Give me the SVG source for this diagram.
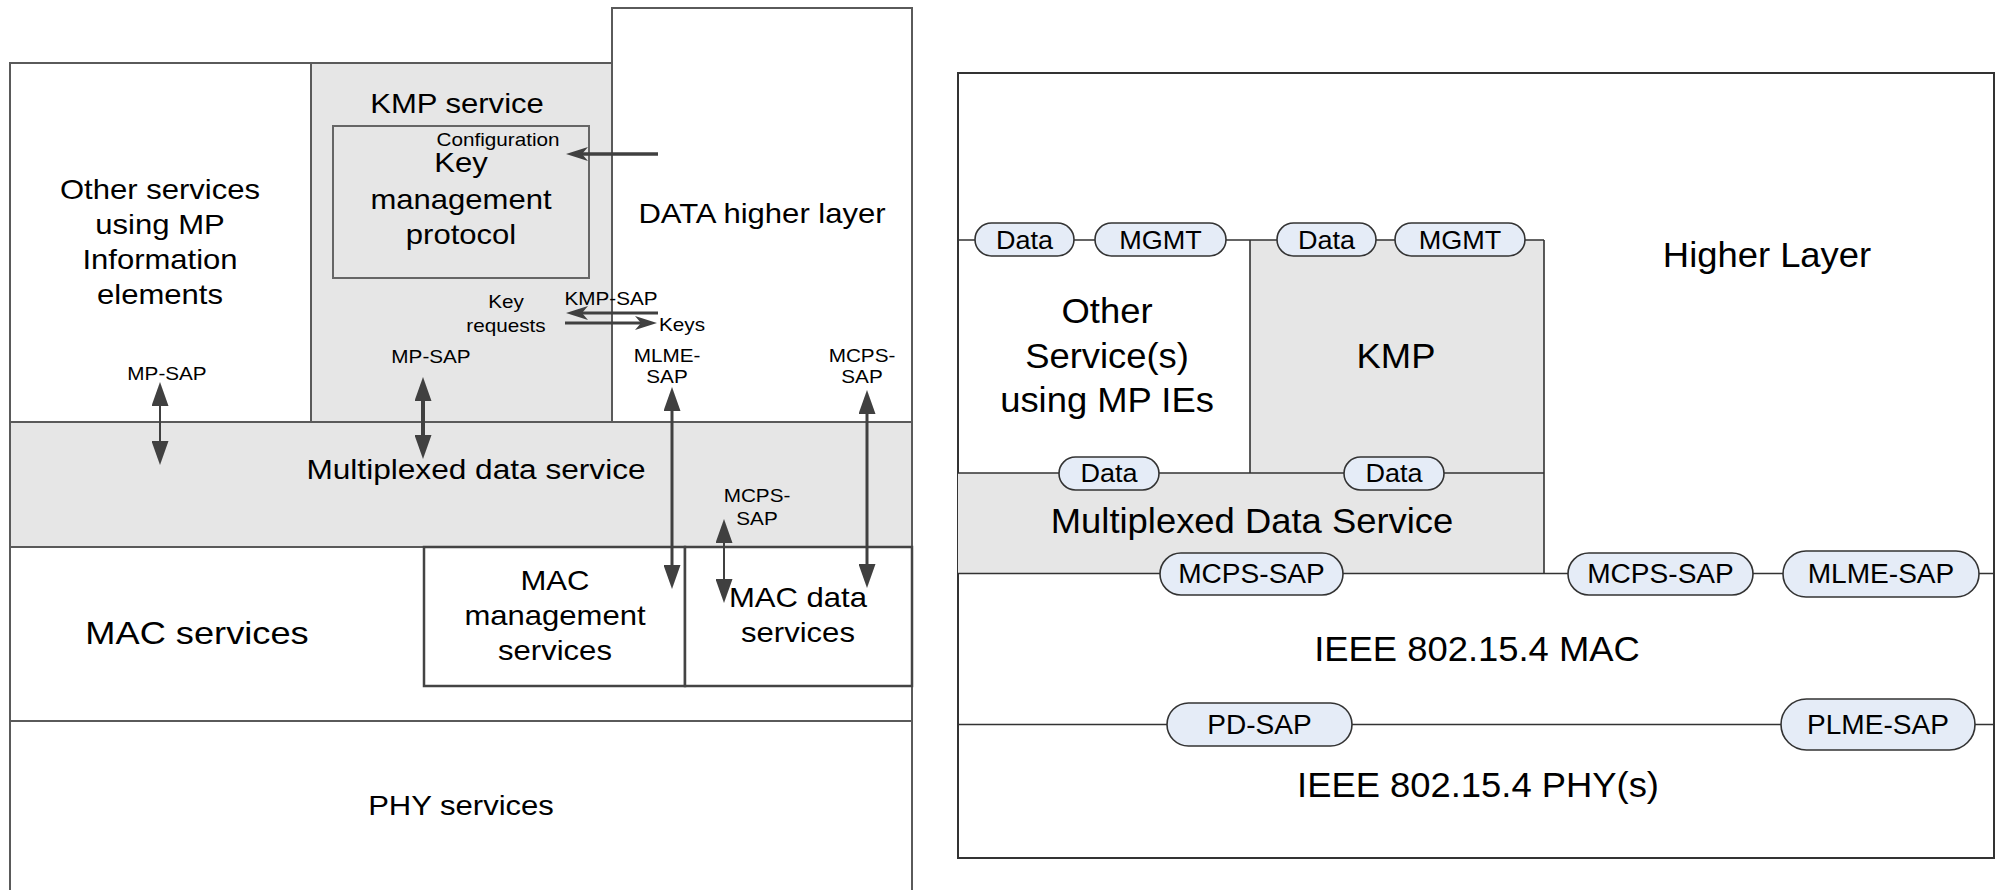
<svg xmlns="http://www.w3.org/2000/svg" width="2001" height="890" viewBox="0 0 2001 890">
<style>
.t{font-family:"Liberation Sans",Arial,sans-serif;fill:#000;text-anchor:middle}
.s{text-anchor:start}
.bx{stroke:#5a5a5a;stroke-width:2}
.g{fill:#e6e6e6}
.w{fill:#fff}
.ln{fill:none;stroke:#333;stroke-width:1.6}
.pill{fill:#e5ecf7;stroke:#333;stroke-width:1.6}
.ar{fill:none;stroke:#404040}
</style>
<defs>
<marker id="ah" viewBox="0 0 24 17" refX="0" refY="8.5" markerWidth="24" markerHeight="17" orient="auto-start-reverse" markerUnits="userSpaceOnUse">
<path d="M0,0 L24,8.5 L0,17 Z" fill="#404040"/>
</marker>
<marker id="bh" viewBox="0 0 22 14" refX="6" refY="7" markerWidth="22" markerHeight="14" orient="auto" markerUnits="userSpaceOnUse">
<path d="M0,0 L22,7 L0,14 L6,7 Z" fill="#404040"/>
</marker>
</defs>
<rect width="2001" height="890" fill="#fff"/>

<!-- LEFT DIAGRAM -->
<g id="other-services">
<rect class="bx w" x="10" y="63" width="301" height="359"/>
<text class="t" font-size="27" transform="translate(160,199) scale(1.15,1)"><tspan x="0" y="0">Other services</tspan><tspan x="0" y="35">using MP</tspan><tspan x="0" y="70">Information</tspan><tspan x="0" y="105">elements</tspan></text>
</g>
<g id="kmp-service">
<rect class="bx g" x="311" y="63" width="301" height="359"/>
<text class="t" font-size="27" transform="translate(457,113) scale(1.15,1)">KMP service</text>
</g>
<g id="key-management-protocol">
<rect class="g" x="333" y="126" width="256" height="152" stroke="#666" stroke-width="2"/>
<text class="t" font-size="18" transform="translate(498,146) scale(1.15,1)">Configuration</text>
<text class="t" font-size="27" transform="translate(461,172) scale(1.15,1)"><tspan x="0" y="0">Key</tspan><tspan x="0" y="37">management</tspan><tspan x="0" y="72">protocol</tspan></text>
</g>
<g id="data-higher-layer">
<rect class="bx w" x="612" y="8" width="300" height="414"/>
<text class="t" font-size="27" transform="translate(762,223) scale(1.15,1)">DATA higher layer</text>
</g>
<g id="multiplexed-data-service">
<rect class="bx g" x="10" y="422" width="902" height="125"/>
<text class="t" font-size="27.5" transform="translate(476,479) scale(1.15,1)">Multiplexed data service</text>
</g>
<g id="mac-services">
<rect class="bx w" x="10" y="547" width="902" height="174"/>
<text class="t" font-size="31.5" transform="translate(197,644) scale(1.15,1)">MAC services</text>
</g>
<g id="mac-management-services">
<rect class="w" x="424" y="547" width="261" height="139" stroke="#444" stroke-width="2.5"/>
<text class="t" font-size="27" transform="translate(555,590) scale(1.15,1)"><tspan x="0" y="0">MAC</tspan><tspan x="0" y="35">management</tspan><tspan x="0" y="70">services</tspan></text>
</g>
<g id="mac-data-services">
<rect class="w" x="685" y="547" width="227" height="139" stroke="#444" stroke-width="2.5"/>
<text class="t" font-size="27" transform="translate(798,607) scale(1.15,1)"><tspan x="0" y="0">MAC data</tspan><tspan x="0" y="35">services</tspan></text>
</g>
<g id="phy-services">
<rect class="bx w" x="10" y="721" width="902" height="180"/>
<text class="t" font-size="27" transform="translate(461,815) scale(1.15,1)">PHY services</text>
</g>

<g id="connectors">
<line class="ar" x1="658" y1="154" x2="582" y2="154" stroke-width="3.5" marker-end="url(#bh)"/>
<line class="ar" x1="658" y1="313" x2="582" y2="313" stroke-width="3" marker-end="url(#bh)"/>
<line class="ar" x1="565" y1="323" x2="641" y2="323" stroke-width="3" marker-end="url(#bh)"/>
<line class="ar" x1="160" y1="406" x2="160" y2="441" stroke-width="2" marker-start="url(#ah)" marker-end="url(#ah)"/>
<line class="ar" x1="423" y1="401" x2="423" y2="435" stroke-width="4" marker-start="url(#ah)" marker-end="url(#ah)"/>
<line class="ar" x1="672" y1="411" x2="672" y2="565" stroke-width="3" marker-start="url(#ah)" marker-end="url(#ah)"/>
<line class="ar" x1="867" y1="414" x2="867" y2="564" stroke-width="3" marker-start="url(#ah)" marker-end="url(#ah)"/>
<line class="ar" x1="724" y1="543" x2="724" y2="579" stroke-width="2" marker-start="url(#ah)" marker-end="url(#ah)"/>
<text class="t" font-size="18" transform="translate(506,308) scale(1.15,1)"><tspan x="0" y="0">Key</tspan><tspan x="0" y="24">requests</tspan></text>
<text class="t" font-size="18" transform="translate(611,305) scale(1.15,1)">KMP-SAP</text>
<text class="t s" font-size="18" transform="translate(659,331) scale(1.15,1)">Keys</text>
<text class="t" font-size="18" transform="translate(167,380) scale(1.15,1)">MP-SAP</text>
<text class="t" font-size="18" transform="translate(431,363) scale(1.15,1)">MP-SAP</text>
<text class="t" font-size="18" transform="translate(667,362) scale(1.15,1)"><tspan x="0" y="0">MLME-</tspan><tspan x="0" y="21">SAP</tspan></text>
<text class="t" font-size="18" transform="translate(862,362) scale(1.15,1)"><tspan x="0" y="0">MCPS-</tspan><tspan x="0" y="21">SAP</tspan></text>
<text class="t" font-size="18" transform="translate(757,502) scale(1.15,1)"><tspan x="0" y="0">MCPS-</tspan><tspan x="0" y="23">SAP</tspan></text>
</g>

<!-- RIGHT DIAGRAM -->
<g id="right-frame">
<rect x="958" y="73" width="1036" height="785" fill="#fff" stroke="#333" stroke-width="2"/>
<path d="M1250 240 H1544 V573 H958 V473 H1250 Z" class="g"/>
<path class="ln" d="M958 240 H1544 M1250 240 V473 M1544 240 V573 M958 473 H1544 M958 573.5 H1994 M958 724.5 H1994"/>
</g>
<g id="higher-layer">
<text class="t" font-size="35" transform="translate(1767,267) scale(1.04,1)">Higher Layer</text>
</g>
<g id="other-service-s">
<text class="t" font-size="35" transform="translate(1107,323) scale(1.04,1)"><tspan x="0" y="0">Other</tspan><tspan x="0" y="45">Service(s)</tspan><tspan x="0" y="89">using MP IEs</tspan></text>
</g>
<g id="kmp">
<text class="t" font-size="35" transform="translate(1396,368) scale(1.04,1)">KMP</text>
</g>
<g id="multiplexed-data-service-r">
<text class="t" font-size="35" transform="translate(1252,533) scale(1.04,1)">Multiplexed Data Service</text>
</g>
<g id="ieee-mac">
<text class="t" font-size="35" transform="translate(1477,661) scale(1.04,1)">IEEE 802.15.4 MAC</text>
</g>
<g id="ieee-phy">
<text class="t" font-size="35" transform="translate(1478,797) scale(1.04,1)">IEEE 802.15.4 PHY(s)</text>
</g>
<g id="sap-data-1"><rect class="pill" x="975" y="223" width="99" height="33" rx="16.5"/><text class="t" font-size="26" transform="translate(1024.5,248.5) scale(1.04,1)">Data</text></g>
<g id="sap-mgmt-1"><rect class="pill" x="1095" y="223" width="131" height="33" rx="16.5"/><text class="t" font-size="26" transform="translate(1160.5,248.5) scale(1.04,1)">MGMT</text></g>
<g id="sap-data-2"><rect class="pill" x="1277" y="223" width="99" height="33" rx="16.5"/><text class="t" font-size="26" transform="translate(1326.5,248.5) scale(1.04,1)">Data</text></g>
<g id="sap-mgmt-2"><rect class="pill" x="1395" y="223" width="130" height="33" rx="16.5"/><text class="t" font-size="26" transform="translate(1460,248.5) scale(1.04,1)">MGMT</text></g>
<g id="sap-data-3"><rect class="pill" x="1059" y="457" width="100" height="33" rx="16.5"/><text class="t" font-size="26" transform="translate(1109,482) scale(1.04,1)">Data</text></g>
<g id="sap-data-4"><rect class="pill" x="1344" y="457" width="100" height="33" rx="16.5"/><text class="t" font-size="26" transform="translate(1394,482) scale(1.04,1)">Data</text></g>
<g id="sap-mcps-1"><rect class="pill" x="1160" y="553" width="183" height="42" rx="21"/><text class="t" font-size="27" transform="translate(1251.5,583) scale(1.04,1)">MCPS-SAP</text></g>
<g id="sap-mcps-2"><rect class="pill" x="1568" y="553" width="185" height="42" rx="21"/><text class="t" font-size="27" transform="translate(1660.5,583) scale(1.04,1)">MCPS-SAP</text></g>
<g id="sap-mlme"><rect class="pill" x="1783" y="551" width="196" height="46" rx="23"/><text class="t" font-size="27" transform="translate(1881,583) scale(1.04,1)">MLME-SAP</text></g>
<g id="sap-pd"><rect class="pill" x="1167" y="703" width="185" height="43" rx="21.5"/><text class="t" font-size="27" transform="translate(1259.5,734) scale(1.04,1)">PD-SAP</text></g>
<g id="sap-plme"><rect class="pill" x="1781" y="699" width="194" height="51" rx="25.5"/><text class="t" font-size="27" transform="translate(1878,734) scale(1.04,1)">PLME-SAP</text></g>
</svg>
